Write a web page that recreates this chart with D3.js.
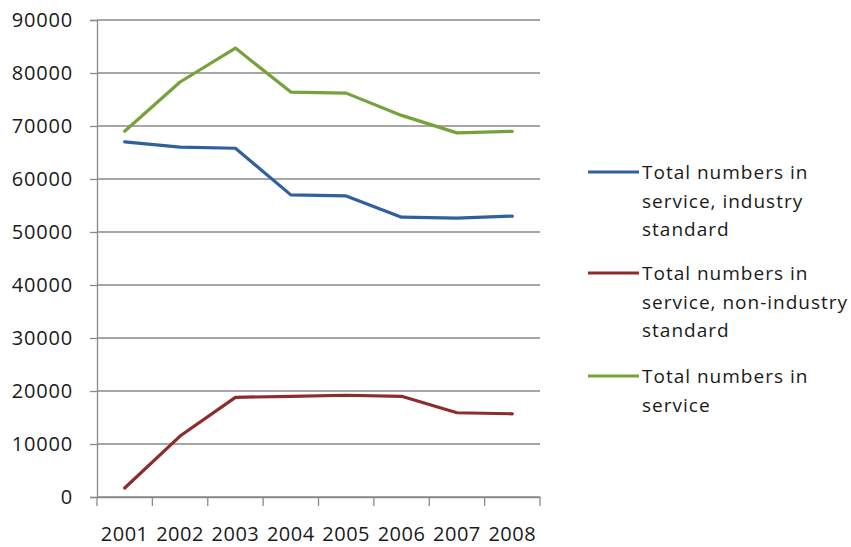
<!DOCTYPE html>
<html><head><meta charset="utf-8">
<script src="https://cdn.jsdelivr.net/npm/d3@7"></script>
<style>body{margin:0;background:#fff}svg{display:block}text{font-family:"Open Sans",sans-serif;fill:#1a1a1a}</style>
</head><body>
<svg id="c" width="851" height="547"></svg>
<script>
const years = ["2001","2002","2003","2004","2005","2006","2007","2008"];
const industry = [67000,66000,65800,57000,56800,52800,52600,53000];
const nonIndustry = [1700,11500,18800,19000,19200,19000,15900,15700];
const total = [69000,78300,84700,76400,76200,72000,68700,69000];
const yTicks = [0,10000,20000,30000,40000,50000,60000,70000,80000,90000];
const seriesNames = [["Total numbers in","service, industry","standard"],["Total numbers in","service, non-industry","standard"],["Total numbers in","service"]];
const colors = ["#30609e","#8e2c2c","#77a13a"];
const series = [industry, nonIndustry, total];

const svg = d3.select("#c");
const pL = 97, pR = 540, pT = 20, pB = 497;
const x = d3.scaleBand().domain(years).range([pL, pR]);
const y = d3.scaleLinear().domain([0, 90000]).range([pB, pT]);

// gridlines
svg.append("g").selectAll("line").data(yTicks).join("line")
  .attr("x1", pL).attr("x2", pR)
  .attr("y1", d => y(d)).attr("y2", d => y(d))
  .attr("stroke", "#8a8a8a").attr("stroke-width", 1.3);

// y axis
const ya = svg.append("g").attr("transform", `translate(${pL},0)`)
  .call(d3.axisLeft(y).tickValues(yTicks).tickSize(7).tickPadding(17).tickFormat(d3.format("d")));
ya.select(".domain").attr("stroke", "#8a8a8a").attr("stroke-width", 1.3);
ya.selectAll(".tick line").attr("stroke", "#8a8a8a").attr("stroke-width", 1.3);
ya.selectAll("text").style("font-size", "20px").attr("fill", "#1a1a1a")
  .style("font-family", '"Open Sans",sans-serif').style("letter-spacing", "0.8px");

// x axis
const xa = svg.append("g").attr("transform", `translate(0,${pB})`)
  .call(d3.axisBottom(x).tickSize(0).tickPadding(29.5));
xa.select(".domain").attr("stroke", "#8a8a8a").attr("stroke-width", 1.3);
xa.selectAll("text").style("font-size", "20px").attr("fill", "#1a1a1a")
  .style("font-family", '"Open Sans",sans-serif').style("letter-spacing", "0.5px");
// category boundary ticks
const bounds = years.map(d => x(d)).concat([pR]);
svg.append("g").selectAll("line").data(bounds).join("line")
  .attr("x1", d => d).attr("x2", d => d).attr("y1", pB).attr("y2", pB + 9)
  .attr("stroke", "#8a8a8a").attr("stroke-width", 1.3);

// lines
const line = d3.line().x((d, i) => x(years[i]) + x.bandwidth() / 2).y(d => y(d));
svg.append("g").selectAll("path").data(series).join("path")
  .attr("d", d => line(d)).attr("fill", "none")
  .attr("stroke", (d, i) => colors[i]).attr("stroke-width", 3.2)
  .attr("stroke-linejoin", "round").attr("stroke-linecap", "round");

// legend
const legTops = [172, 273, 376];
const lg = svg.append("g").selectAll("g").data(seriesNames).join("g")
  .attr("transform", (d, i) => `translate(588,${legTops[i]})`);
lg.append("line").attr("x1", 0).attr("x2", 51).attr("y1", 0).attr("y2", 0)
  .attr("stroke", (d, i) => colors[i]).attr("stroke-width", 3.2);
lg.each(function(d) {
  const t = d3.select(this).append("text").attr("x", 54).attr("y", 7)
    .style("font-size", "19px").style("letter-spacing", "1px");
  t.selectAll("tspan").data(d).join("tspan").attr("x", 54).attr("dy", (s, j) => j === 0 ? 0 : 28.5).text(s => s);
});
</script>
</body></html>
